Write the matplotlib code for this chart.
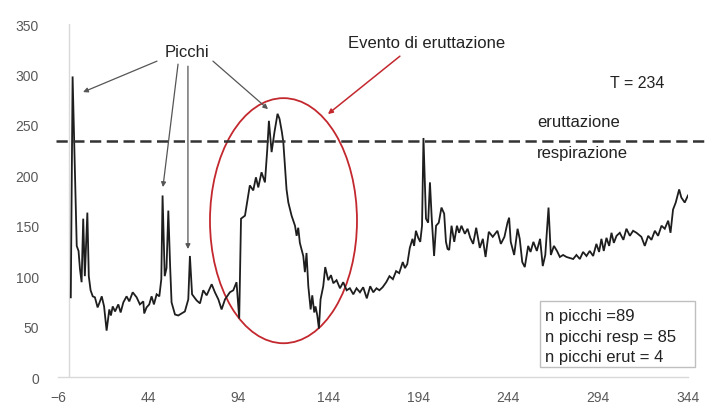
import matplotlib
matplotlib.use("Agg")
import matplotlib.pyplot as plt
from matplotlib.patches import Ellipse, Rectangle

plt.rcParams['font.family'] = ['Liberation Sans', 'DejaVu Sans']

# Pressure trace (sample index vs value)
x_vals = [1, 2, 4.3, 5.3, 6.1, 7.0, 7.9, 8.8, 10.2, 11.0, 12.0,
          13.2, 14.4, 15.9, 17.0, 18.2, 19.5, 20.9, 22.4, 23.3, 24.3,
          25.6, 27.4, 28.7, 30.2, 32.0, 33.5, 35.4, 37.6, 39.4, 41.3,
          41.8, 43.1, 44.6, 45.9, 47.2, 48.7, 50.2, 51.3, 52.0, 53.2,
          54.2, 55.2, 56.2, 57.0, 58.9, 60.7, 62.6, 64.4, 65.5, 66.3,
          67.2, 68.4, 70.9, 72.8, 74.6, 76.5, 79.3, 81.1, 83.0, 84.8,
          86.7, 89.4, 91.3, 93.1, 94.6, 95.6, 97.8, 99.6, 100.5, 102.4,
          103.9, 105.2, 107.0, 108.9, 110.2, 111.1, 112.6, 114.2, 115.9, 117.0,
          118.3, 119.1, 120.0, 120.9, 121.9, 123.7, 125.6, 126.5, 127.4, 128.3,
          130.2, 131.1, 132.0, 133.0, 134.3, 135.2, 136.3, 137.0, 138.0, 138.9,
          139.8, 141.3, 142.4, 144.1, 145.6, 146.9, 148.7, 150.6, 152.4, 154.3,
          156.1, 158.0, 159.8, 161.7, 163.5, 165.5, 167.4, 169.1, 170.9, 172.5,
          174.3, 176.3, 178.1, 180.0, 181.8, 183.5, 185.5, 186.7, 188.0, 189.4,
          190.9, 191.8, 192.8, 194.1, 195.2, 196.2, 197.0, 198.4, 199.6, 200.6,
          201.6, 202.9, 204.0, 205.5, 207.0, 208.5, 209.5, 210.4, 211.3, 212.6,
          214.1, 215.6, 216.8, 218.1, 220.0, 221.5, 223.0, 224.6, 226.3, 228.3,
          230.0, 231.5, 233.3, 235.5, 238.1, 240.0, 242.0, 243.7, 244.6, 245.5,
          247.4, 249.3, 250.5, 251.9, 253.3, 255.2, 256.5, 258.1, 260.0, 261.8,
          263.3, 264.7, 266.5, 267.8, 269.5, 271.2, 272.8, 274.6, 276.5, 278.4,
          280.2, 282.0, 283.9, 285.7, 287.6, 289.4, 291.3, 293.1, 294.6, 295.9,
          297.2, 298.7, 300.2, 301.5, 302.8, 304.3, 306.1, 308.1, 309.8, 311.7,
          313.5, 315.4, 318.1, 320.0, 321.9, 323.7, 325.6, 327.4, 329.3, 331.1,
          333.0, 334.3, 335.7, 337.2, 339.1, 340.3, 342.2, 344.0]
y_vals = [79, 298, 130, 125, 107, 94, 157, 100, 163, 100, 86,
          80, 79, 69, 74, 80, 70, 46, 67, 61, 70,
          65, 72, 64, 74, 80, 75, 84, 79, 72, 75,
          63, 69, 72, 80, 72, 82, 80, 97, 180, 100,
          108, 165, 110, 74, 62, 61, 63, 65, 72, 77,
          120, 82, 76, 73, 86, 81, 92, 84, 77, 67,
          77, 84, 86, 94, 58, 157, 160, 180, 190, 185,
          198, 188, 203, 193, 226, 254, 223, 243, 261, 256,
          243, 233, 209, 186, 173, 160, 150, 140, 148, 133,
          120, 104, 123, 90, 67, 81, 64, 70, 61, 48,
          77, 90, 109, 96, 101, 93, 96, 88, 94, 86,
          88, 82, 88, 84, 89, 78, 90, 84, 88, 86,
          89, 94, 100, 97, 105, 103, 114, 108, 112, 128,
          137, 130, 145, 138, 134, 150, 237, 157, 153, 193,
          157, 120, 150, 153, 168, 162, 134, 127, 126, 150,
          134, 150, 143, 150, 142, 147, 138, 132, 148, 128,
          137, 119, 144, 139, 145, 132, 139, 153, 158, 134,
          121, 147, 137, 114, 109, 130, 124, 134, 125, 137,
          110, 121, 168, 121, 130, 125, 119, 121, 119, 118,
          117, 121, 117, 124, 120, 125, 120, 132, 124, 137,
          125, 138, 130, 143, 133, 140, 143, 136, 147, 140,
          145, 143, 139, 130, 140, 136, 145, 140, 150, 147,
          155, 143, 166, 173, 186, 178, 173, 180]

x_ticks = [-6, 44, 94, 144, 194, 244, 294, 344]
y_ticks = [0, 50, 100, 150, 200, 250, 300, 350]
threshold = 234
stats_lines = ["n picchi =89", "n picchi resp = 85", "n picchi erut = 4"]

fig = plt.figure(figsize=(7.15, 4.10), dpi=100)
ax = fig.add_axes([0.0814, 0.078, 0.8808, 0.861])

ax.plot(x_vals, y_vals, color='#1e1e1e', lw=1.3, solid_joinstyle='miter')

ax.set_xlim(-6, 344)
ax.set_ylim(0, 350)
ax.set_xticks(x_ticks)
ax.set_yticks(y_ticks)
ax.tick_params(length=0, labelsize=10, colors='#595959')
ax.tick_params(axis='x', pad=9)
ax.tick_params(axis='y', pad=14)
for s in ('left', 'top', 'right'):
    ax.spines[s].set_visible(False)
ax.spines['bottom'].set_color('#d9d9d9')
ax.spines['bottom'].set_linewidth(1.0)
ax.axvline(0, color='#d9d9d9', lw=1.0, zorder=0)

# Threshold line
ax.plot([-7, 353], [threshold, threshold], color='#333333', lw=1.8,
        dashes=(4.5, 2.2), clip_on=False)
ax.text(315.6, 292.4, f"T = {threshold}", fontsize=11.5, ha='center',
        va='center', color='#222222')
ax.text(260, 253.7, "eruttazione", fontsize=12, ha='left', va='center',
        color='#222222')
ax.text(260, 223, "respirazione", fontsize=12, ha='left', va='center',
        color='#222222')

# Peak annotations
ax.text(65.3, 323, "Picchi", fontsize=12, ha='center', va='center',
        color='#222222')
arrow_kw = dict(arrowstyle='-|>', color='#555555', lw=0.9,
                mutation_scale=7, shrinkA=0, shrinkB=0)
ax.annotate("", xy=(7.8, 282.5), xytext=(48.9, 313.2), arrowprops=arrow_kw)
ax.annotate("", xy=(52.2, 188.3), xytext=(60.6, 310.2), arrowprops=arrow_kw)
ax.annotate("", xy=(66.1, 126.9), xytext=(66.1, 308.2), arrowprops=arrow_kw)
ax.annotate("", xy=(110.6, 265.6), xytext=(80.0, 313.2), arrowprops=arrow_kw)

# Eructation event
ax.add_patch(Ellipse((119.2, 155), 81.7, 243, fill=False,
                     edgecolor='#c3282e', lw=1.3))
ax.text(198.9, 332, "Evento di eruttazione", fontsize=12, ha='center',
        va='center', color='#222222')
ax.annotate("", xy=(143.9, 260.7), xytext=(183.9, 318.1),
            arrowprops=dict(arrowstyle='-|>', color='#c3282e', lw=1.1,
                            mutation_scale=7, shrinkA=0, shrinkB=0))

# Summary box
ax.add_patch(Rectangle((261.7, 9.9), 86.1, 65.4, fill=True, facecolor='white',
                       edgecolor='#bfbfbf', lw=1.0, clip_on=False, zorder=3))
for yy, line in zip([60.5, 40.6, 20.8], stats_lines):
    ax.text(264.4, yy, line, fontsize=12, ha='left', va='center',
            color='#222222', zorder=4)

fig.savefig("out.png", dpi=100)
